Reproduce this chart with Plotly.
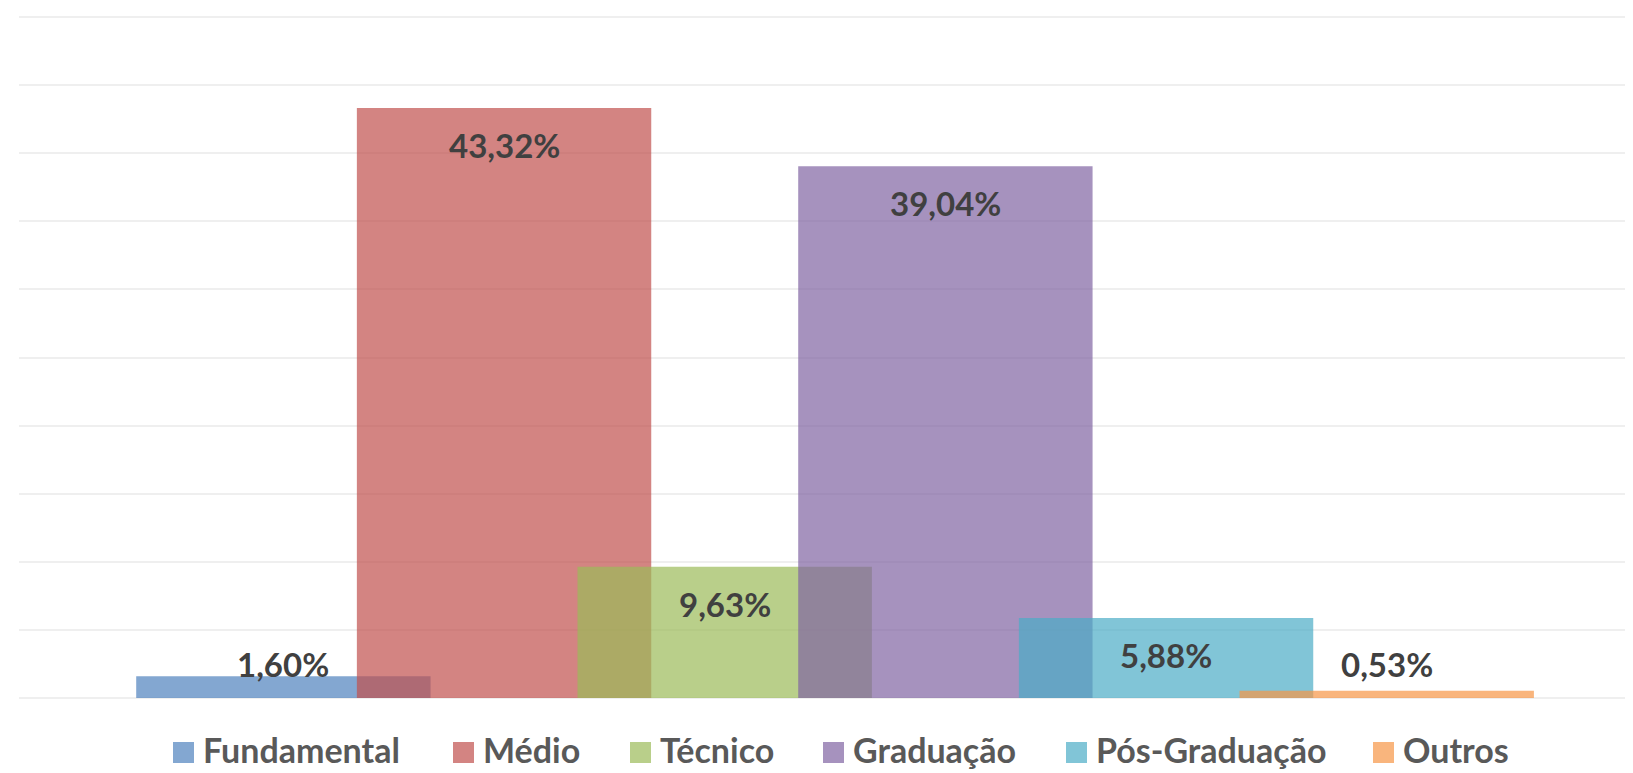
import plotly.graph_objects as go

categories = ["Fundamental", "Médio", "Técnico", "Graduação", "Pós-Graduação", "Outros"]
values = [1.60, 43.32, 9.63, 39.04, 5.88, 0.53]
labels = ["1,60%", "43,32%", "9,63%", "39,04%", "5,88%", "0,53%"]
colors = ["#4F81BD", "#C0504D", "#9BBB59", "#8064A2", "#4BACC6", "#F79646"]

# page body has an 8px margin: work in figure pixel coordinates
OFF = 8
W, H = 1633 - OFF, 773 - OFF
baseline = 698 - OFF
top_grid = 17 - OFF
y_max = 50
px_per_unit = (baseline - top_grid) / y_max
ML, MR, MT = 19 - OFF, 0, 2
MB = H - baseline
plot_w = W - ML - MR
plot_h = H - MT - MB
y_top = plot_h / px_per_unit
FONT = "Lato"

fig = go.Figure()
for i, (name, v, c) in enumerate(zip(categories, values, colors)):
    fig.add_trace(go.Bar(
        x=[i], y=[v], name=name, width=1.334,
        marker=dict(color=c, line=dict(width=0)), opacity=0.7,
        showlegend=False, hoverinfo="name+y",
    ))

# data labels (inside end, clamped above baseline for short bars)
for i, (v, lab) in enumerate(zip(values, labels)):
    h = v * px_per_unit
    center = max(h - 37, 34)
    fig.add_annotation(x=i, y=v, yshift=center - h, text=f"<b>{lab}</b>",
                       showarrow=False, xanchor="center", yanchor="middle",
                       font=dict(family=FONT, size=33, color="#404040"))

# custom legend below the plot (nudged up slightly so descenders stay visible)
legend_px = [173, 453, 630, 823, 1066, 1373]
sq = 21
LIFT = 6
sq_top, sq_bot, txt_mid = 748 - OFF - LIFT, 769 - OFF - LIFT, 756 - OFF - LIFT
for name, c, lx in zip(categories, colors, legend_px):
    lx = lx - OFF
    x0 = (lx - ML) / plot_w
    x1 = (lx + sq - ML) / plot_w
    y0 = (baseline - sq_bot) / plot_h
    y1 = (baseline - sq_top) / plot_h
    fig.add_shape(type="rect", xref="paper", yref="paper", x0=x0, x1=x1, y0=y0, y1=y1,
                  fillcolor=c, opacity=0.7, line=dict(width=0))
    fig.add_annotation(xref="paper", yref="paper", x=(lx + sq + 7 - ML) / plot_w,
                       y=(baseline - txt_mid) / plot_h, text=f"<b>{name}</b>", showarrow=False,
                       xanchor="left", yanchor="middle",
                       font=dict(family=FONT, size=34, color="#595959"))

x_left = -(283.3 - OFF - ML) / 220.6
x_right = 5 + (W - (1386.8 - OFF)) / 220.6
fig.update_layout(
    width=W, height=H,
    margin=dict(l=ML, r=MR, t=MT, b=MB),
    paper_bgcolor="white", plot_bgcolor="white",
    barmode="overlay",
    showlegend=False,
    xaxis=dict(range=[x_left, x_right], showticklabels=False, showgrid=False,
               zeroline=False, showline=False, ticks=""),
    yaxis=dict(range=[0, y_top], tick0=0, dtick=5, showticklabels=False, showgrid=True,
               gridcolor="#EFEFEF", gridwidth=2, zeroline=True, zerolinecolor="#EFEFEF",
               zerolinewidth=2, ticks=""),
)
fig.write_html("out.html")
